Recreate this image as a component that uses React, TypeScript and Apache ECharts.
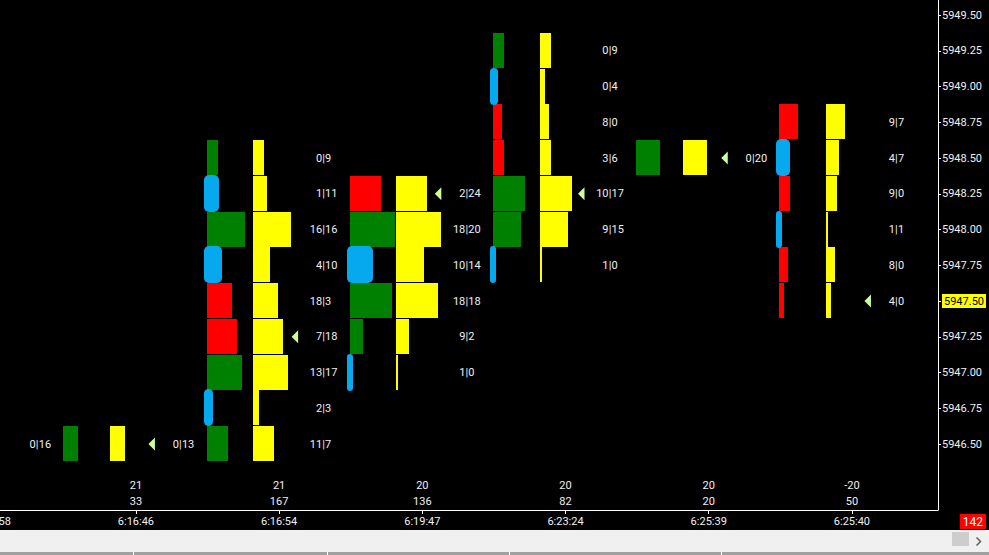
import { useEffect, useRef } from 'react';
import * as echarts from 'echarts';

// bar open times, left to right (first one is cut off by the left edge)
const times = ['6:15:58', '6:16:46', '6:16:54', '6:19:47', '6:23:24', '6:25:39', '6:25:40'];
const deltaTotals = ['', '21', '21', '20', '20', '20', '-20'];
const volumeTotals = ['', '33', '167', '136', '82', '20', '50'];

const priceTicks = [
  5946.5, 5946.75, 5947, 5947.25, 5947.5, 5947.75, 5948, 5948.25, 5948.5, 5948.75, 5949, 5949.25, 5949.5,
];
const lastPrice = 5947.5;
const barCounter = '142';

// [column, price, bid, ask, tone]  g = green, r = red, m = painted over
const cells: [number, number, number, number, string][] = [
  [0, 5946.5, 0, 16, 'g'],
  [1, 5946.5, 0, 13, 'g'],
  [2, 5948.5, 0, 9, 'g'],
  [2, 5948.25, 1, 11, 'm'],
  [2, 5948.0, 16, 16, 'g'],
  [2, 5947.75, 4, 10, 'm'],
  [2, 5947.5, 18, 3, 'r'],
  [2, 5947.25, 7, 18, 'r'],
  [2, 5947.0, 13, 17, 'g'],
  [2, 5946.75, 2, 3, 'm'],
  [2, 5946.5, 11, 7, 'g'],
  [3, 5948.25, 2, 24, 'r'],
  [3, 5948.0, 18, 20, 'g'],
  [3, 5947.75, 10, 14, 'm'],
  [3, 5947.5, 18, 18, 'g'],
  [3, 5947.25, 9, 2, 'g'],
  [3, 5947.0, 1, 0, 'm'],
  [4, 5949.25, 0, 9, 'g'],
  [4, 5949.0, 0, 4, 'm'],
  [4, 5948.75, 8, 0, 'r'],
  [4, 5948.5, 3, 6, 'r'],
  [4, 5948.25, 10, 17, 'g'],
  [4, 5948.0, 9, 15, 'g'],
  [4, 5947.75, 1, 0, 'm'],
  [5, 5948.5, 0, 20, 'g'],
  [6, 5948.75, 9, 7, 'r'],
  [6, 5948.5, 4, 7, 'm'],
  [6, 5948.25, 9, 0, 'r'],
  [6, 5948.0, 1, 1, 'm'],
  [6, 5947.75, 8, 0, 'r'],
  [6, 5947.5, 4, 0, 'r'],
];

// point of control arrows: [column, price]
const pocs: [number, number][] = [
  [1, 5946.5],
  [2, 5947.25],
  [3, 5948.25],
  [4, 5948.25],
  [5, 5948.5],
  [6, 5947.5],
];

const GREEN = '#008000';
const RED = '#ff0000';
const YELLOW = '#ffff00';
const MARKER = '#06a9ee';
const TEXT = '#f0f0f0';
const ARROW = '#ccff99';
const FONT = 'Roboto, "Liberation Sans", sans-serif';
const TICK = 0.25;
const PX_PER_LOT = 1.18;

const label = (text: string | number, x: number, y: number, align: string) => ({
  type: 'text',
  style: {
    text: String(text),
    x,
    y,
    align,
    verticalAlign: 'middle',
    fill: TEXT,
    fontSize: 11,
    fontFamily: FONT,
  },
});

export default function App() {
  const chartRef = useRef<HTMLDivElement | null>(null);

  useEffect(() => {
    if (!chartRef.current) return;
    const chart = echarts.init(chartRef.current, null, { renderer: 'svg' });

    const rowBox = (api: any, col: number, price: number, lots: number) => {
      const [cx, cy] = api.coord([col, price]);
      const rowH = api.size([0, TICK])[1];
      return {
        cx,
        cy,
        top: Math.round(cy - rowH / 2),
        h: Math.round(rowH) - 1,
        w: Math.max(2, Math.round(lots * PX_PER_LOT)),
      };
    };

    const cellItem = (params: any, api: any) => {
      const [col, price, bid, ask, tone] = cells[params.dataIndex];
      const { cx, cy, top, h, w } = rowBox(api, col, price, bid + ask);
      const children: any[] = [];
      if (tone !== 'm') {
        children.push({
          type: 'rect',
          shape: { x: Math.round(cx - 72.5), y: top, width: w, height: h },
          style: { fill: tone === 'g' ? GREEN : RED },
        });
      }
      children.push({
        type: 'rect',
        shape: { x: Math.round(cx - 26), y: top, width: w, height: h },
        style: { fill: YELLOW },
      });
      children.push(label(bid, cx + 43, cy, 'right'));
      children.push(label('|', cx + 44.5, cy, 'center'));
      children.push(label(ask, cx + 46, cy, 'left'));
      return { type: 'group', children };
    };

    const painted = cells.filter((c) => c[4] === 'm');
    const markerItem = (params: any, api: any) => {
      const [col, price, bid, ask] = painted[params.dataIndex];
      const { cx, top, h, w } = rowBox(api, col, price, bid + ask);
      const mw = Math.max(6, Math.round(w * 0.8 + 4));
      return {
        type: 'rect',
        shape: { x: Math.round(cx - 75.5), y: top - 1, width: mw, height: h + 2, r: Math.min(5, mw / 2) },
        style: { fill: MARKER },
      };
    };

    const arrowItem = (params: any, api: any) => {
      const [cx, cy] = api.coord(pocs[params.dataIndex]);
      return {
        type: 'polygon',
        shape: {
          points: [
            [cx + 12.5, cy],
            [cx + 19, cy - 6.5],
            [cx + 19, cy + 6.5],
          ],
        },
        style: { fill: ARROW },
      };
    };

    const footerItem = (params: any, api: any) => {
      const i = params.dataIndex;
      const cs = params.coordSys;
      const [cx] = api.coord([i, priceTicks[0]]);
      const bottom = cs.y + cs.height;
      return {
        type: 'group',
        children: [
          label(deltaTotals[i], cx, bottom - 25, 'center'),
          label(volumeTotals[i], cx, bottom - 9, 'center'),
        ],
      };
    };

    const colValues = times.map((_, i) => i);

    chart.setOption({
      animation: false,
      backgroundColor: '#000',
      grid: { left: -150.5, right: 51, top: 0, bottom: 45, outerBoundsMode: 'none', containLabel: false },
      xAxis: {
        type: 'value',
        min: -1,
        max: 6.601,
        splitLine: { show: false },
        axisLine: { show: true, onZero: false, lineStyle: { color: '#fff', width: 1 } },
        axisTick: { show: true, length: 4, customValues: colValues, lineStyle: { color: '#fff' } },
        axisLabel: {
          customValues: colValues,
          formatter: (v: number) => times[Math.round(v)] ?? '',
          color: TEXT,
          fontSize: 11,
          fontFamily: FONT,
          margin: 6,
        },
      },
      yAxis: {
        type: 'value',
        position: 'right',
        min: 5946.0385,
        max: 5949.6049,
        splitLine: { show: false },
        axisLine: { show: true, onZero: false, lineStyle: { color: '#fff', width: 1 } },
        axisTick: { show: true, length: 3, customValues: priceTicks, lineStyle: { color: '#fff' } },
        axisLabel: {
          customValues: priceTicks,
          formatter: (v: number) =>
            Math.abs(v - lastPrice) < 1e-6 ? `{hl|${v.toFixed(2)}}` : v.toFixed(2),
          color: TEXT,
          fontSize: 11,
          fontFamily: FONT,
          margin: 4,
          rich: {
            hl: {
              backgroundColor: YELLOW,
              color: '#000',
              fontSize: 11,
              fontFamily: FONT,
              padding: [2, 2, 1, 2],
            },
          },
        },
      },
      series: [
        {
          type: 'custom',
          name: 'cells',
          renderItem: cellItem,
          data: cells.map((c) => [c[0], c[1], c[2], c[3]]),
          encode: { x: 0, y: 1 },
          clip: false,
        },
        {
          type: 'custom',
          name: 'markers',
          renderItem: markerItem,
          data: painted.map((c) => [c[0], c[1]]),
          encode: { x: 0, y: 1 },
          clip: false,
        },
        {
          type: 'custom',
          name: 'poc',
          renderItem: arrowItem,
          data: pocs,
          encode: { x: 0, y: 1 },
          clip: false,
        },
        {
          type: 'custom',
          name: 'totals',
          renderItem: footerItem,
          data: colValues.map((i) => [i, priceTicks[0]]),
          encode: { x: 0, y: 1 },
          clip: false,
        },
      ],
      graphic: [
        { type: 'rect', left: 0, top: 530, shape: { width: 989, height: 25 }, style: { fill: '#f0f0f0' } },
        { type: 'rect', left: 0, top: 552, shape: { width: 989, height: 3 }, style: { fill: '#a0a0a0' } },
        { type: 'rect', left: 133, top: 552, shape: { width: 1, height: 3 }, style: { fill: '#ffffff' } },
        { type: 'rect', left: 327, top: 552, shape: { width: 1, height: 3 }, style: { fill: '#ffffff' } },
        { type: 'rect', left: 509, top: 552, shape: { width: 1, height: 3 }, style: { fill: '#ffffff' } },
        { type: 'rect', left: 721, top: 552, shape: { width: 1, height: 3 }, style: { fill: '#ffffff' } },
        { type: 'rect', left: 952, top: 532, shape: { width: 17, height: 14 }, style: { fill: '#cdcdcd' } },
        {
          type: 'polyline',
          left: 974,
          top: 535,
          shape: { points: [[0, 0], [4, 4], [0, 8]] },
          style: { stroke: '#606060', lineWidth: 1.5, fill: 'none' },
        },
        {
          type: 'text',
          right: 3,
          top: 514,
          style: {
            text: barCounter,
            fill: '#fff',
            backgroundColor: RED,
            padding: [2, 3, 1, 3],
            fontSize: 12,
            fontFamily: FONT,
          },
        },
      ],
    });

    return () => {
      chart.dispose();
    };
  }, []);

  return (
    <div
      ref={chartRef}
      style={{ position: 'fixed', left: 0, top: 0, width: 989, height: 555 }}
    />
  );
}
